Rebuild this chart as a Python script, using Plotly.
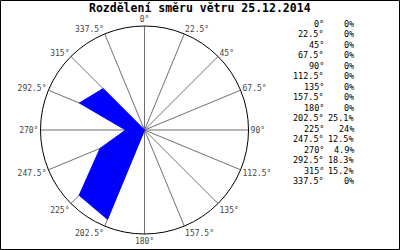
import plotly.graph_objects as go

angles = [0, 22.5, 45, 67.5, 90, 112.5, 135, 157.5, 180, 202.5, 225, 247.5, 270, 292.5, 315, 337.5]
angle_labels = ["0°", "22.5°", "45°", "67.5°", "90°", "112.5°", "135°", "157.5°", "180°",
                "202.5°", "225°", "247.5°", "270°", "292.5°", "315°", "337.5°"]
percents = [0, 0, 0, 0, 0, 0, 0, 0, 0, 25.1, 24, 12.5, 4.9, 18.3, 15.2, 0]
title_text = "Rozdělení směru větru 25.12.2014"

W, H = 400, 250
fig = go.Figure()
fig.add_trace(go.Scatterpolar(
    r=percents + [percents[0]],
    theta=angles + [angles[0]],
    mode="lines",
    fill="toself",
    fillcolor="#0000ff",
    line=dict(color="#0000ff", width=1),
    hoverinfo="skip",
))

cx, cy, R = 144.5, 130, 104
fig.update_layout(
    width=W, height=H,
    margin=dict(l=0, r=0, t=0, b=0),
    paper_bgcolor="white",
    showlegend=False,
    polar=dict(
        domain=dict(x=[(cx - R) / W, (cx + R) / W], y=[1 - (cy + R) / H, 1 - (cy - R) / H]),
        bgcolor="white",
        radialaxis=dict(range=[0, 27], showline=False, showticklabels=False,
                        showgrid=False, ticks=""),
        angularaxis=dict(rotation=90, direction="clockwise",
                         tickmode="array", tickvals=angles, ticktext=angle_labels,
                         showline=True, linecolor="black", linewidth=1,
                         gridcolor="#707070", gridwidth=1, ticks="",
                         tickfont=dict(family="DejaVu Sans Mono", size=8, color="#444444")),
    ),
)

annotations = [dict(text="<b>" + title_text + "</b>", x=0.5, y=1 - 8 / H, xref="paper", yref="paper",
                    xanchor="center", yanchor="middle", showarrow=False, height=12,
                    font=dict(family="DejaVu Sans Mono", size=11.5, color="black"))]
for i, (lab, p) in enumerate(zip(angle_labels, percents)):
    ypx = 24 + 10.47 * i
    annotations.append(dict(text=lab, x=326 / W, y=1 - ypx / H, xref="paper", yref="paper",
                            xanchor="right", yanchor="middle", showarrow=False,
                            font=dict(family="DejaVu Sans Mono", size=8.5, color="black")))
    annotations.append(dict(text=f"{p:g}%", x=356 / W, y=1 - ypx / H, xref="paper", yref="paper",
                            xanchor="right", yanchor="middle", showarrow=False,
                            font=dict(family="DejaVu Sans Mono", size=8.5, color="black")))
fig.update_layout(annotations=annotations)
fig.add_shape(type="rect", xref="paper", yref="paper",
              x0=0.5 / W, x1=1 - 0.5 / W, y0=0.5 / H, y1=1 - 0.5 / H,
              line=dict(color="black", width=1))

fig.write_html("out.html")
